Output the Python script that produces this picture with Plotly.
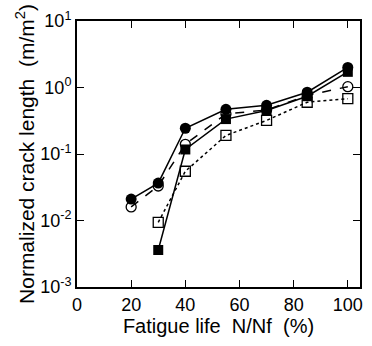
import plotly.graph_objects as go

x_all = [20, 30, 40, 55, 70, 85, 100]
x_sq = [30, 40, 55, 70, 85, 100]

filled_circle = [0.021, 0.0365, 0.244, 0.47, 0.54, 0.85, 2.0]
open_circle = [0.016, 0.033, 0.14, 0.40, 0.46, 0.76, 1.03]
filled_square = [0.0036, 0.117, 0.335, 0.45, 0.74, 1.72]
open_square = [0.0094, 0.055, 0.19, 0.32, 0.60, 0.68]

ytick_vals = [1e-3, 1e-2, 1e-1, 1, 10]
ytick_text = ["10<sup>-3</sup>", "10<sup>-2</sup>", "10<sup>-1</sup>", "10<sup>0</sup>", "10<sup>1</sup>"]
xtick_vals = [0, 20, 40, 60, 80, 100]

fig = go.Figure()
fig.add_trace(go.Scatter(x=x_sq, y=open_square, mode="lines+markers",
    line=dict(color="black", width=1.5, dash="dot"),
    marker=dict(symbol="square-open", size=10, color="black", line=dict(width=1.3))))
fig.add_trace(go.Scatter(x=x_all, y=open_circle, mode="lines+markers",
    line=dict(color="black", width=1.5, dash="dash"),
    marker=dict(symbol="circle-open", size=10, color="black", line=dict(width=1.3))))
fig.add_trace(go.Scatter(x=x_sq, y=filled_square, mode="lines+markers",
    line=dict(color="black", width=1.5),
    marker=dict(symbol="square", size=10, color="black")))
fig.add_trace(go.Scatter(x=x_all, y=filled_circle, mode="lines+markers",
    line=dict(color="black", width=1.5),
    marker=dict(symbol="circle", size=11, color="black")))

fig.update_layout(
    width=372, height=346,
    margin=dict(l=77, r=9, t=15, b=59),
    paper_bgcolor="white", plot_bgcolor="white",
    showlegend=False,
    font=dict(family="Liberation Sans, Arial, sans-serif", color="black", size=18),
)
fig.update_xaxes(range=[0, 104.5], tickvals=xtick_vals, ticks="inside", ticklen=7,
    tickcolor="black", showline=True, linecolor="black", linewidth=2, mirror="ticks",
    showgrid=False, zeroline=False,
    title=dict(text="Fatigue life  N/Nf  (%)", font=dict(size=20), standoff=4),
    tickfont=dict(size=18))
fig.update_yaxes(type="log", range=[-3, 1], tickvals=ytick_vals, ticktext=ytick_text,
    ticks="inside", ticklen=7, tickcolor="black", showline=True, linecolor="black",
    linewidth=2, mirror="ticks", showgrid=False, zeroline=False,
    title=dict(text="Normalized crack length  (m/m<sup>2</sup>)", font=dict(size=21), standoff=0),
    tickfont=dict(size=18))

fig.write_html("out.html")
